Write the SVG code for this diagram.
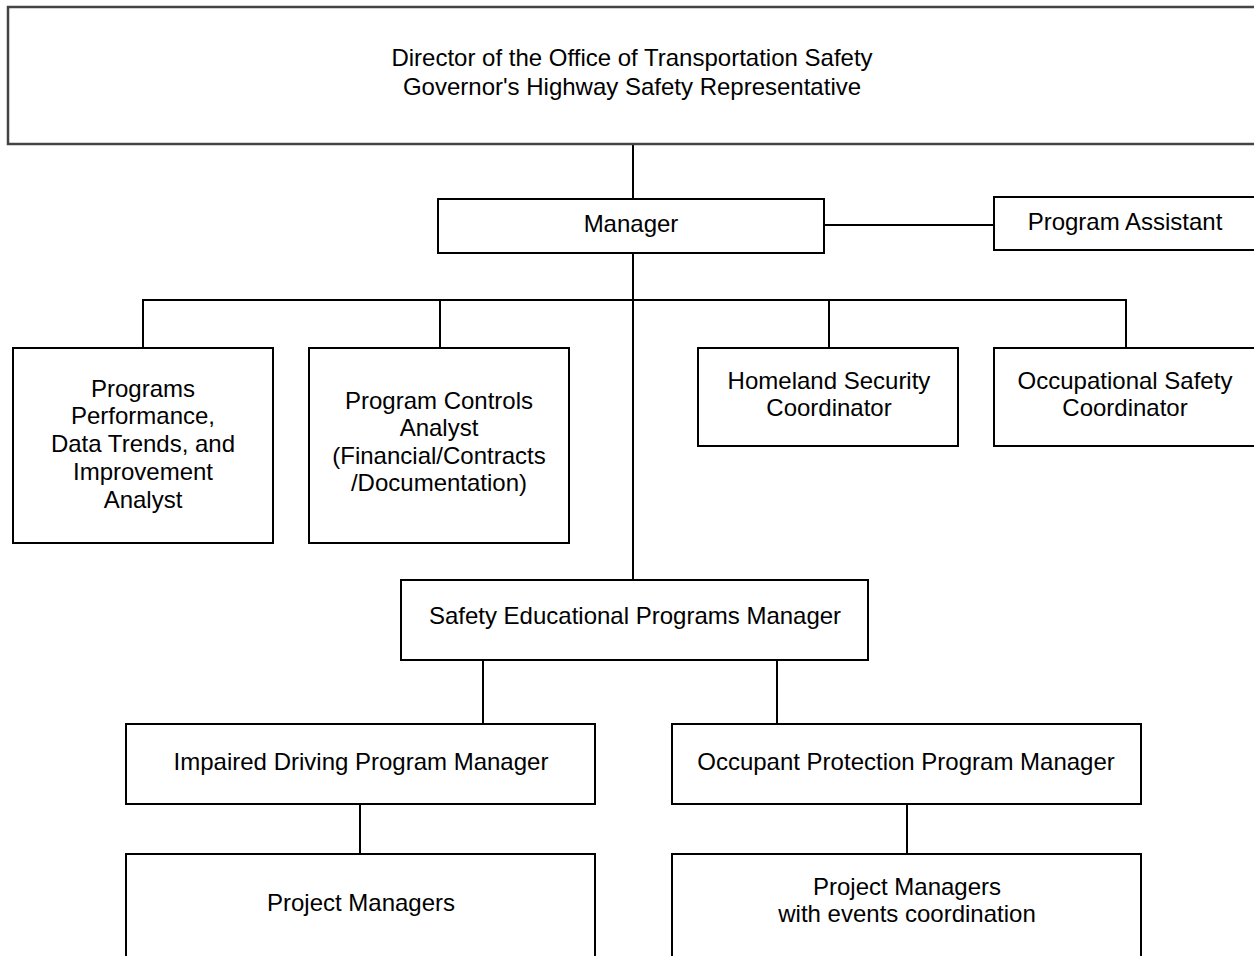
<svg xmlns="http://www.w3.org/2000/svg" width="1254" height="956" viewBox="0 0 1254 956">
<style>
.box{fill:#fff;stroke:#000;stroke-width:2}
.top{fill:#fff;stroke:#444;stroke-width:2.5}
.t{font-family:"Liberation Sans",Arial,sans-serif;font-size:24px;fill:#000;text-anchor:middle}
.c{stroke:#000;stroke-width:2;fill:none}
</style>
<rect width="1254" height="956" fill="#fff"/>
<g id="connectors">
<line class="c" x1="633" y1="144" x2="633" y2="199"/>
<line class="c" x1="824" y1="225" x2="994" y2="225"/>
<line class="c" x1="633" y1="253" x2="633" y2="580"/>
<polyline class="c" points="143,348 143,300 1126,300 1126,348"/>
<line class="c" x1="440" y1="300" x2="440" y2="348"/>
<line class="c" x1="829" y1="300" x2="829" y2="348"/>
<line class="c" x1="483" y1="660" x2="483" y2="724"/>
<line class="c" x1="777" y1="660" x2="777" y2="724"/>
<line class="c" x1="360" y1="804" x2="360" y2="854"/>
<line class="c" x1="907" y1="804" x2="907" y2="854"/>
</g>
<g id="director">
<rect class="top" x="8" y="7" width="1260" height="137"/>
<text class="t" x="632" y="66">Director of the Office of Transportation Safety</text>
<text class="t" x="632" y="95">Governor's Highway Safety Representative</text>
</g>
<g id="manager">
<rect class="box" x="438" y="199" width="386" height="54"/>
<text class="t" x="631" y="232">Manager</text>
</g>
<g id="program-assistant">
<rect class="box" x="994" y="197" width="270" height="53"/>
<text class="t" x="1125" y="230">Program Assistant</text>
</g>
<g id="programs-performance">
<rect class="box" x="13" y="348" width="260" height="195"/>
<text class="t" x="143" y="397">Programs</text>
<text class="t" x="143" y="424">Performance,</text>
<text class="t" x="143" y="452">Data Trends, and</text>
<text class="t" x="143" y="480">Improvement</text>
<text class="t" x="143" y="508">Analyst</text>
</g>
<g id="program-controls">
<rect class="box" x="309" y="348" width="260" height="195"/>
<text class="t" x="439" y="409">Program Controls</text>
<text class="t" x="439" y="436">Analyst</text>
<text class="t" x="439" y="464">(Financial/Contracts</text>
<text class="t" x="439" y="491">/Documentation)</text>
</g>
<g id="homeland-security">
<rect class="box" x="698" y="348" width="260" height="98"/>
<text class="t" x="829" y="389">Homeland Security</text>
<text class="t" x="829" y="416">Coordinator</text>
</g>
<g id="occupational-safety">
<rect class="box" x="994" y="348" width="270" height="98"/>
<text class="t" x="1125" y="389">Occupational Safety</text>
<text class="t" x="1125" y="416">Coordinator</text>
</g>
<g id="safety-educational">
<rect class="box" x="401" y="580" width="467" height="80"/>
<text class="t" x="635" y="624">Safety Educational Programs Manager</text>
</g>
<g id="impaired-driving">
<rect class="box" x="126" y="724" width="469" height="80"/>
<text class="t" x="361" y="770">Impaired Driving Program Manager</text>
</g>
<g id="occupant-protection">
<rect class="box" x="672" y="724" width="469" height="80"/>
<text class="t" x="906" y="770">Occupant Protection Program Manager</text>
</g>
<g id="project-managers-1">
<rect class="box" x="126" y="854" width="469" height="120"/>
<text class="t" x="361" y="911">Project Managers</text>
</g>
<g id="project-managers-2">
<rect class="box" x="672" y="854" width="469" height="120"/>
<text class="t" x="907" y="895">Project Managers</text>
<text class="t" x="907" y="922">with events coordination</text>
</g>
</svg>
